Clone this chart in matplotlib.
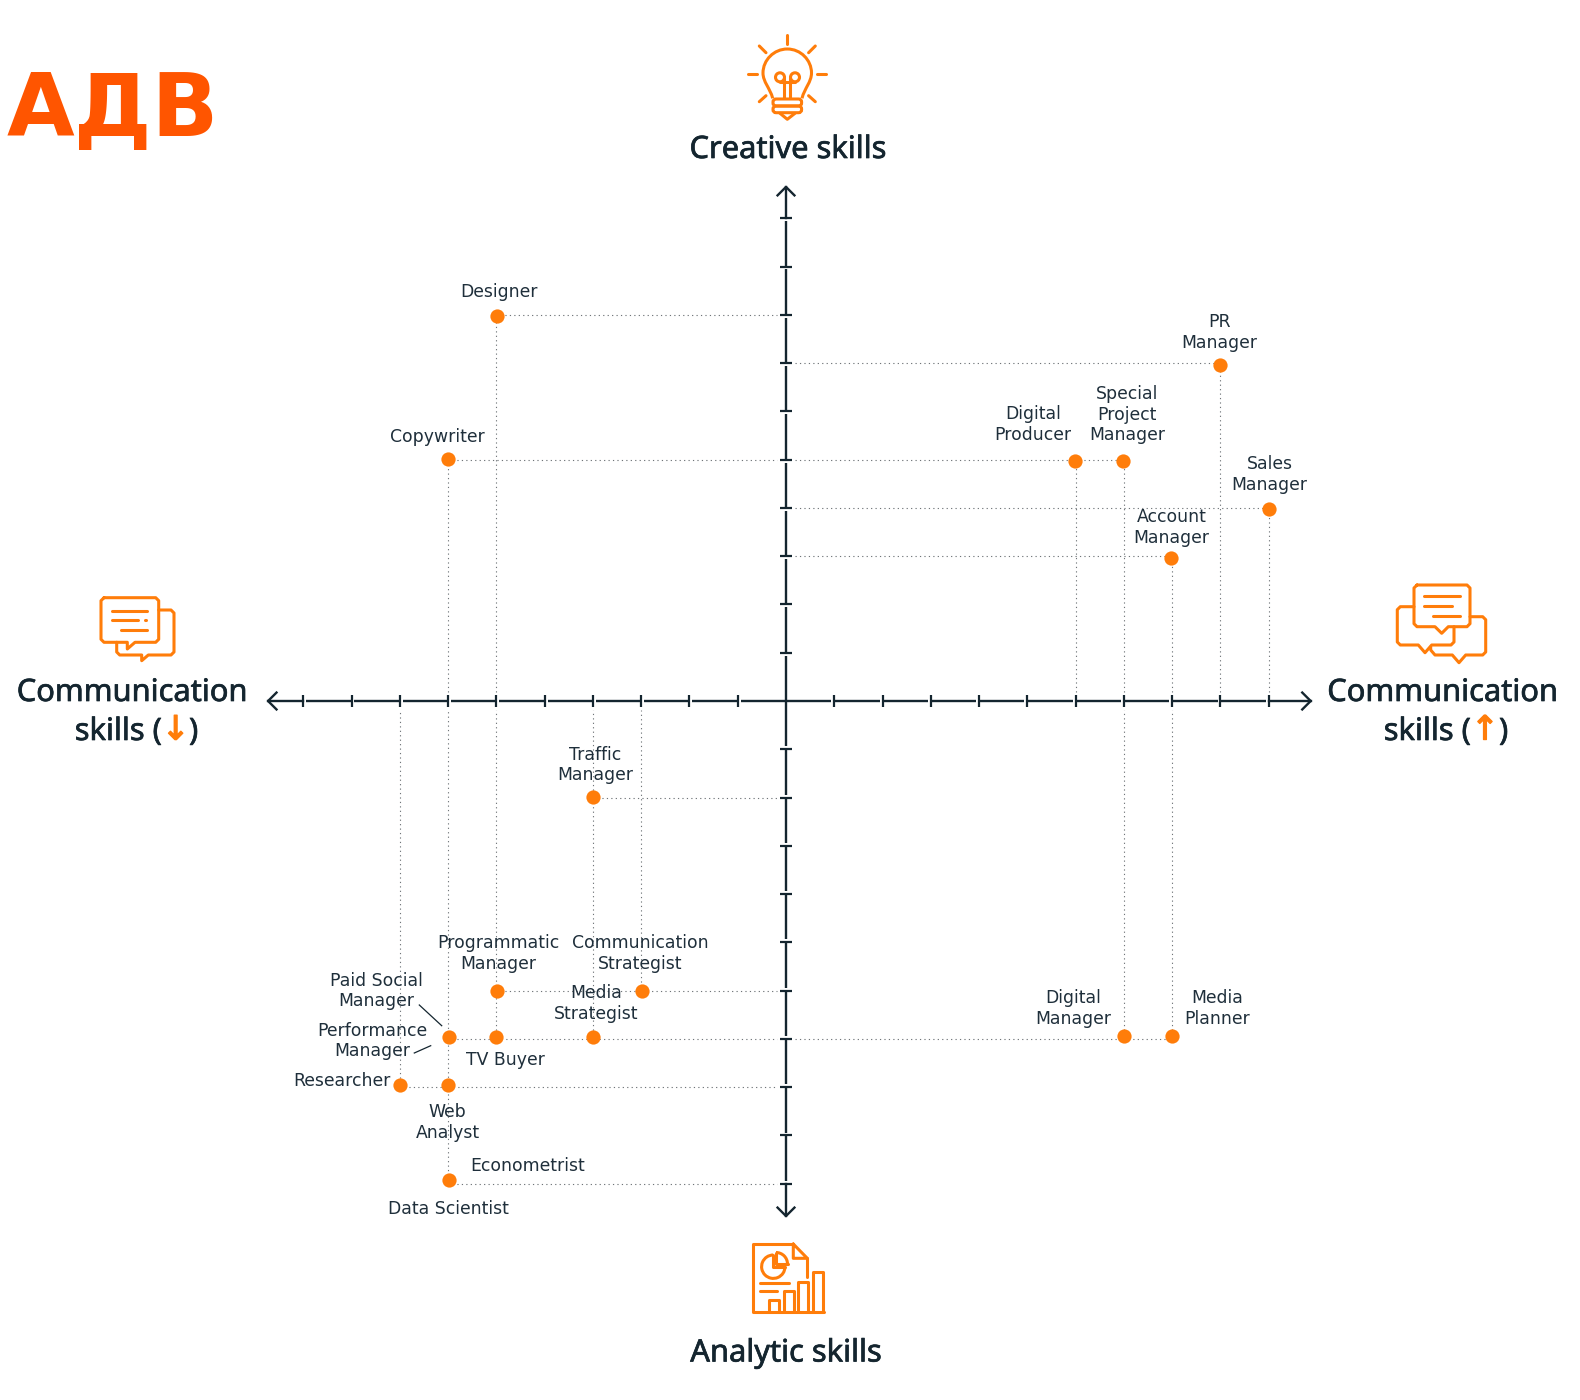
import numpy as np
import matplotlib
matplotlib.use("Agg")
import matplotlib.pyplot as plt
import matplotlib.patheffects as pe
from matplotlib.patches import Arc, Circle, FancyBboxPatch
from matplotlib.path import Path
from matplotlib.patches import PathPatch

# jobs, x = communication, y = creative (+) / analytic (-)
jobs = ["Designer", "PR\nManager", "Copywriter", "Digital\nProducer", "Special\nProject\nManager",
        "Sales\nManager", "Account\nManager", "Traffic\nManager", "Programmatic\nManager",
        "Communication\nStrategist", "Media\nStrategist", "TV Buyer", "Paid Social\nManager",
        "Digital\nManager", "Media\nPlanner", "Researcher", "Web\nAnalyst", "Data Scientist"]
comm = [-5.98, 9.0, -7.0, 5.98, 6.99, 10.0, 7.98, -4.0, -5.99, -2.98, -4.0, -6.01, -6.98,
        7.0, 8.0, -7.99, -7.0, -6.98]
creative = [7.98, 6.96, 5.02, 4.98, 4.98, 3.98, 2.97, -1.99, -6.0, -6.0, -6.96, -6.96, -6.96,
            -6.95, -6.95, -7.96, -7.96, -9.92]
# these two share a point with another job
extra_jobs = ["Performance\nManager", "Econometrist"]
extra_comm = [-6.98, -6.98]
extra_creative = [-6.96, -9.92]

ticks = [1, 2, 3, 4, 5, 6, 7, 8, 9, 10]

ORANGE = "#ff7d0a"
DARK = "#14252f"
TEXT = "#1f2f3b"
HEAD_FONT = "Noto Sans"

W, H = 1580, 1400
cx, cy, unit = 786, 701, 48.27

fig = plt.figure(figsize=(W / 100, H / 100), dpi=100, facecolor="white")
ax = fig.add_axes([0, 0, 1, 1])
ax.set_xlim(-cx / unit, (W - cx) / unit)
ax.set_ylim((cy - H) / unit, cy / unit)
ax.axis("off")

# pixel overlay for icons and headings
px = fig.add_axes([0, 0, 1, 1])
px.set_xlim(0, W)
px.set_ylim(H, 0)
px.axis("off")
px.patch.set_alpha(0)

# dotted guides, one line per level, broken at the axes
gap = 0.18
dot = dict(color="#6f7478", lw=0.8, linestyle=(0, (1.1, 2.9)), zorder=1)
rx = np.round(comm)
ry = np.round(creative)
for level in np.unique(ry):
    xs = rx[ry == level]
    if xs.min() < 0:
        ax.plot([xs.min(), -gap], [level, level], **dot)
    if xs.max() > 0:
        ax.plot([gap, xs.max()], [level, level], **dot)
for level in np.unique(rx):
    ys = ry[rx == level]
    if ys.min() < 0:
        ax.plot([level, level], [ys.min(), -gap], **dot)
    if ys.max() > 0:
        ax.plot([level, level], [gap, ys.max()], **dot)

# axes with ticks, small gap before each tick
ax_lw = 1.7
for sign in [-1, 1]:
    for t in ticks:
        ax.plot([sign * (t - 1), sign * (t - 0.06)], [0, 0], color=DARK, lw=ax_lw, zorder=2, solid_capstyle="butt")
        ax.plot([0, 0], [sign * (t - 1), sign * (t - 0.06)], color=DARK, lw=ax_lw, zorder=2, solid_capstyle="butt")
        ax.plot([sign * t, sign * t], [-0.125, 0.125], color=DARK, lw=1.6, zorder=2, solid_capstyle="butt")
        ax.plot([-0.125, 0.125], [sign * t, sign * t], color=DARK, lw=1.6, zorder=2, solid_capstyle="butt")

arrow_left, arrow_right, arrow_top, arrow_bottom = -10.73, 10.87, 10.65, -10.67
head = 0.175
ax.plot([-10, arrow_left], [0, 0], color=DARK, lw=ax_lw, zorder=2)
ax.plot([10, arrow_right], [0, 0], color=DARK, lw=ax_lw, zorder=2)
ax.plot([0, 0], [10, arrow_top], color=DARK, lw=ax_lw, zorder=2)
ax.plot([0, 0], [-10, arrow_bottom], color=DARK, lw=ax_lw, zorder=2)
ax.plot([arrow_left + head, arrow_left, arrow_left + head], [head, 0, -head], color=DARK, lw=ax_lw, zorder=2)
ax.plot([arrow_right - head, arrow_right, arrow_right - head], [head, 0, -head], color=DARK, lw=ax_lw, zorder=2)
ax.plot([-head, 0, head], [arrow_top - head, arrow_top, arrow_top - head], color=DARK, lw=ax_lw, zorder=2)
ax.plot([-head, 0, head], [arrow_bottom + head, arrow_bottom, arrow_bottom + head], color=DARK, lw=ax_lw, zorder=2)

ax.scatter(comm, creative, s=105, color=ORANGE, linewidths=0, zorder=3)

# label offsets from the point, in pixels
offsets = [(2, 24.3), (-0.7, 32.5), (-10.6, 21.7), (-41.7, 36.4), (3.4, 46), (1, 34.3), (0.3, 30.4),
           (2, 32), (1.3, 37.4), (-2, 37.4), (3, 33.7), (9.3, -23), (-73, 46),
           (-50.5, 27.7), (45.4, 27.7), (-58.6, 4), (-0.6, -37.5), (-0.7, -29)]
extra_offsets = [(-77, -4), (79, 13.7)]
for name, x, y, off in zip(jobs + extra_jobs, comm + extra_comm, creative + extra_creative, offsets + extra_offsets):
    ax.annotate(name, (x, y), xytext=off, textcoords="offset pixels", ha="center", va="center",
                fontsize=12.4, color=TEXT, linespacing=1.2, family="DejaVu Sans", zorder=4)

# leader lines
px.plot([419.3, 441.7], [1005, 1025.7], color=DARK, lw=0.9)
px.plot([414.3, 430.7], [1053, 1045.7], color=DARK, lw=0.9)

# headings, no semibold cut installed so a thin stroke thickens the regular
bold = [pe.withStroke(linewidth=0.5, foreground=DARK)]
head_style = dict(family=HEAD_FONT, fontsize=22.2, color=DARK, va="baseline", path_effects=bold)
px.text(788, 158, "Creative skills", ha="center", **head_style)
px.text(786, 1361.5, "Analytic skills", ha="center", **head_style)
px.text(132, 701, "Communication", ha="center", **head_style)
px.text(1442.5, 701, "Communication", ha="center", **head_style)
px.text(162, 740, "skills (", ha="right", **head_style)
px.text(189, 740, ")", ha="left", **head_style)
px.text(1471, 740, "skills (", ha="right", **head_style)
px.text(1499, 740, ")", ha="left", **head_style)
arrow_bold = [pe.withStroke(linewidth=1.0, foreground=ORANGE)]
arrow_style = dict(family="DejaVu Sans", fontsize=24, color=ORANGE, ha="center", va="center", path_effects=arrow_bold)
px.text(175.7, 730, "↓", **arrow_style)
px.text(1485, 730, "↑", **arrow_style)

# logo
px.text(7, 136.5, "АДВ", family="DejaVu Sans", fontsize=63, fontweight="bold", color="#ff5500", ha="left", va="baseline")


# icons, hand traced in pixels
def line(xs, ys, lw=2.2):
    px.plot(xs, ys, color=ORANGE, lw=lw, solid_capstyle="round", solid_joinstyle="round")


# bulb
line([787.3, 787.3], [35, 44])
line([748, 757], [73.7, 73.7])
line([817, 826], [73.7, 73.7])
line([759.3, 766], [46, 52.7])
line([815.3, 808.6], [46, 52.7])
line([759.3, 766], [101.7, 95.7])
line([815.3, 808.6], [101.7, 95.7])
verts = [(772.7, 98.3), (770, 88), (763, 82), (763, 73), (763, 60), (774, 49), (787.3, 49),
         (800.6, 49), (811.5, 60), (811.5, 73), (811.5, 82), (804.6, 88), (802, 98.3)]
codes = [Path.MOVETO] + [Path.CURVE4] * 12
px.add_patch(PathPatch(Path(verts, codes), fill=False, edgecolor=ORANGE, lw=2.2))
for y0, y1 in [(99, 106), (106, 112.7)]:
    px.add_patch(FancyBboxPatch((773, y0), 28.6, y1 - y0, boxstyle="round,pad=0,rounding_size=3",
                                fill=False, edgecolor=ORANGE, lw=2.2))
px.add_patch(Circle((780, 77.3), 4.5, fill=False, edgecolor=ORANGE, lw=2.2))
px.add_patch(Circle((795, 77.3), 4.5, fill=False, edgecolor=ORANGE, lw=2.2))
line([784.3, 784.3], [78, 98])
line([790.3, 790.3], [78, 98])
line([780, 795], [81.7, 81.7])
line([780, 787.3, 795], [113.3, 119.3, 113.3])

# left chat
line([104, 155.7, 158.7, 158.7, 155.7, 135, 127.3, 127.3, 104, 101, 101, 104],
     [597.7, 597.7, 600.7, 639.3, 642.3, 642.3, 649, 642.3, 642.3, 639.3, 600.7, 597.7])
line([158.7, 171, 174, 174, 171, 148.3, 141.7, 141.7, 119.7, 116.7, 116.7],
     [610, 610, 613, 652, 655, 655, 660.7, 655, 655, 652, 642.3])
line([112.3, 146.7], [610.7, 610.7])
line([112.3, 138.3], [620, 620])
line([145.3, 145.5], [620, 620])
line([114, 114.2], [629.7, 629.7])
line([121, 146.7], [629.7, 629.7])

# right chat
line([1417, 1467, 1470, 1470, 1467, 1448.3, 1441.7, 1435, 1417, 1414, 1414, 1417],
     [585, 585, 588, 623.7, 626.7, 626.7, 633.3, 626.7, 626.7, 623.7, 588, 585])
line([1414, 1400.3, 1397.3, 1397.3, 1400.3, 1418.3, 1425, 1431.7, 1451, 1454, 1454],
     [606.7, 606.7, 609.7, 642, 645, 645, 652.7, 645, 645, 642, 626.7])
line([1470, 1482.7, 1485.7, 1485.7, 1482.7, 1465.7, 1459, 1452.3, 1435, 1430.7, 1430.7],
     [616.7, 616.7, 619.7, 652, 655, 655, 662.7, 655, 655, 650, 647])
line([1424, 1460], [595.7, 595.7])
line([1424, 1451.7], [605.7, 605.7])
line([1458.7, 1458.9], [605.7, 605.7])
line([1425.7, 1425.9], [615.7, 615.7])
line([1432.7, 1460], [615.7, 615.7])

# report
line([793.3, 752.7, 752.7, 824], [1244, 1244, 1311.7, 1311.7])
line([793.3, 793.3, 807.3, 793.3], [1244, 1258.3, 1258.3, 1244])
line([807.3, 807.3], [1258.3, 1276.7])
px.add_patch(Arc((773.3, 1266.7), 23.4, 23.4, theta1=0, theta2=270, edgecolor=ORANGE, lw=2.2))
line([773.3, 773.3, 785], [1255, 1266.7, 1266.7])
px.add_patch(Arc((776, 1264), 23, 23, theta1=270, theta2=360, edgecolor=ORANGE, lw=2.2))
line([776, 776, 787.5], [1252.5, 1264, 1264])
line([760, 789], [1282.7, 1282.7])
line([760, 776.7], [1291, 1291])
for left, top in [(769.3, 1300), (784, 1291), (798.3, 1281.7), (813.3, 1271.7)]:
    line([left, left, left + 10, left + 10], [1311.7, top, top, 1311.7])

fig.savefig("out.png", dpi=100)
